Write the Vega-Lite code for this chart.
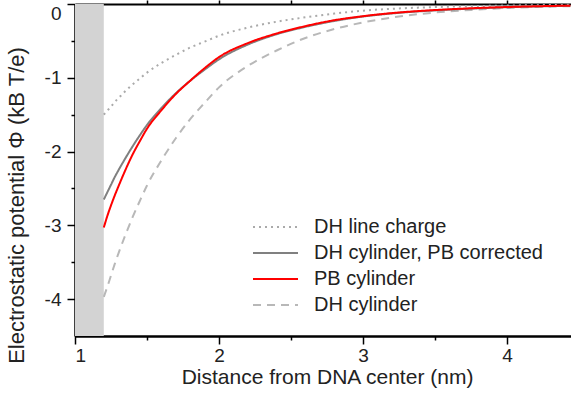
{
  "$schema": "https://vega.github.io/schema/vega-lite/v6.json",
  "width": 496,
  "height": 332,
  "autosize": {"type": "none"},
  "padding": {"left": 75, "top": 4, "right": 0, "bottom": 58},
  "background": "white",
  "config": {
    "view": {"stroke": null},
    "font": "Liberation Sans",
    "axis": {"grid": false, "domain": true, "ticks": true, "domainColor": "#000000", "domainWidth": 2, "domainOpacity": 1, "tickColor": "#000000", "tickOpacity": 1, "tickWidth": 1.5, "labelColor": "#222222", "titleColor": "#222222", "labelFont": "Liberation Sans", "titleFont": "Liberation Sans", "titleFontWeight": "normal", "zindex": 2}
  },
  "datasets": {
    "band": [{"start": 1, "end": 1.2}],
    "curves": [
      {"curve": "DH line charge", "r": 1.2, "phi": -1.5},
      {"curve": "DH line charge", "r": 1.225, "phi": -1.445},
      {"curve": "DH line charge", "r": 1.25, "phi": -1.39},
      {"curve": "DH line charge", "r": 1.275, "phi": -1.33},
      {"curve": "DH line charge", "r": 1.3, "phi": -1.28},
      {"curve": "DH line charge", "r": 1.35, "phi": -1.18},
      {"curve": "DH line charge", "r": 1.4, "phi": -1.09},
      {"curve": "DH line charge", "r": 1.45, "phi": -1.01},
      {"curve": "DH line charge", "r": 1.5, "phi": -0.93},
      {"curve": "DH line charge", "r": 1.6, "phi": -0.8},
      {"curve": "DH line charge", "r": 1.7, "phi": -0.69},
      {"curve": "DH line charge", "r": 1.8, "phi": -0.59},
      {"curve": "DH line charge", "r": 1.9, "phi": -0.51},
      {"curve": "DH line charge", "r": 2.0, "phi": -0.43},
      {"curve": "DH line charge", "r": 2.2, "phi": -0.32},
      {"curve": "DH line charge", "r": 2.4, "phi": -0.24},
      {"curve": "DH line charge", "r": 2.6, "phi": -0.18},
      {"curve": "DH line charge", "r": 2.8, "phi": -0.13},
      {"curve": "DH line charge", "r": 3.0, "phi": -0.09},
      {"curve": "DH line charge", "r": 3.25, "phi": -0.06},
      {"curve": "DH line charge", "r": 3.5, "phi": -0.042},
      {"curve": "DH line charge", "r": 3.75, "phi": -0.03},
      {"curve": "DH line charge", "r": 4.0, "phi": -0.021},
      {"curve": "DH line charge", "r": 4.25, "phi": -0.015},
      {"curve": "DH line charge", "r": 4.44, "phi": -0.011},
      {"curve": "DH cylinder", "r": 1.2, "phi": -3.97},
      {"curve": "DH cylinder", "r": 1.225, "phi": -3.83},
      {"curve": "DH cylinder", "r": 1.25, "phi": -3.68},
      {"curve": "DH cylinder", "r": 1.275, "phi": -3.53},
      {"curve": "DH cylinder", "r": 1.3, "phi": -3.39},
      {"curve": "DH cylinder", "r": 1.35, "phi": -3.13},
      {"curve": "DH cylinder", "r": 1.4, "phi": -2.89},
      {"curve": "DH cylinder", "r": 1.45, "phi": -2.67},
      {"curve": "DH cylinder", "r": 1.5, "phi": -2.46},
      {"curve": "DH cylinder", "r": 1.6, "phi": -2.12},
      {"curve": "DH cylinder", "r": 1.7, "phi": -1.82},
      {"curve": "DH cylinder", "r": 1.8, "phi": -1.56},
      {"curve": "DH cylinder", "r": 1.9, "phi": -1.34},
      {"curve": "DH cylinder", "r": 2.0, "phi": -1.13},
      {"curve": "DH cylinder", "r": 2.2, "phi": -0.84},
      {"curve": "DH cylinder", "r": 2.4, "phi": -0.63},
      {"curve": "DH cylinder", "r": 2.6, "phi": -0.46},
      {"curve": "DH cylinder", "r": 2.8, "phi": -0.34},
      {"curve": "DH cylinder", "r": 3.0, "phi": -0.25},
      {"curve": "DH cylinder", "r": 3.25, "phi": -0.17},
      {"curve": "DH cylinder", "r": 3.5, "phi": -0.115},
      {"curve": "DH cylinder", "r": 3.75, "phi": -0.08},
      {"curve": "DH cylinder", "r": 4.0, "phi": -0.055},
      {"curve": "DH cylinder", "r": 4.25, "phi": -0.038},
      {"curve": "DH cylinder", "r": 4.44, "phi": -0.03},
      {"curve": "DH cylinder, PB corrected", "r": 1.2, "phi": -2.65},
      {"curve": "DH cylinder, PB corrected", "r": 1.225, "phi": -2.55},
      {"curve": "DH cylinder, PB corrected", "r": 1.25, "phi": -2.45},
      {"curve": "DH cylinder, PB corrected", "r": 1.275, "phi": -2.35},
      {"curve": "DH cylinder, PB corrected", "r": 1.3, "phi": -2.26},
      {"curve": "DH cylinder, PB corrected", "r": 1.35, "phi": -2.09},
      {"curve": "DH cylinder, PB corrected", "r": 1.4, "phi": -1.93},
      {"curve": "DH cylinder, PB corrected", "r": 1.45, "phi": -1.78},
      {"curve": "DH cylinder, PB corrected", "r": 1.5, "phi": -1.64},
      {"curve": "DH cylinder, PB corrected", "r": 1.6, "phi": -1.41},
      {"curve": "DH cylinder, PB corrected", "r": 1.7, "phi": -1.21},
      {"curve": "DH cylinder, PB corrected", "r": 1.8, "phi": -1.04},
      {"curve": "DH cylinder, PB corrected", "r": 1.9, "phi": -0.89},
      {"curve": "DH cylinder, PB corrected", "r": 2.0, "phi": -0.75},
      {"curve": "DH cylinder, PB corrected", "r": 2.2, "phi": -0.55},
      {"curve": "DH cylinder, PB corrected", "r": 2.4, "phi": -0.41},
      {"curve": "DH cylinder, PB corrected", "r": 2.6, "phi": -0.31},
      {"curve": "DH cylinder, PB corrected", "r": 2.8, "phi": -0.23},
      {"curve": "DH cylinder, PB corrected", "r": 3.0, "phi": -0.17},
      {"curve": "DH cylinder, PB corrected", "r": 3.25, "phi": -0.12},
      {"curve": "DH cylinder, PB corrected", "r": 3.5, "phi": -0.087},
      {"curve": "DH cylinder, PB corrected", "r": 3.75, "phi": -0.063},
      {"curve": "DH cylinder, PB corrected", "r": 4.0, "phi": -0.044},
      {"curve": "DH cylinder, PB corrected", "r": 4.25, "phi": -0.031},
      {"curve": "DH cylinder, PB corrected", "r": 4.44, "phi": -0.024},
      {"curve": "PB cylinder", "r": 1.2, "phi": -3.03},
      {"curve": "PB cylinder", "r": 1.225, "phi": -2.87},
      {"curve": "PB cylinder", "r": 1.25, "phi": -2.73},
      {"curve": "PB cylinder", "r": 1.275, "phi": -2.6},
      {"curve": "PB cylinder", "r": 1.3, "phi": -2.48},
      {"curve": "PB cylinder", "r": 1.35, "phi": -2.25},
      {"curve": "PB cylinder", "r": 1.4, "phi": -2.04},
      {"curve": "PB cylinder", "r": 1.45, "phi": -1.86},
      {"curve": "PB cylinder", "r": 1.5, "phi": -1.69},
      {"curve": "PB cylinder", "r": 1.6, "phi": -1.44},
      {"curve": "PB cylinder", "r": 1.7, "phi": -1.22},
      {"curve": "PB cylinder", "r": 1.8, "phi": -1.04},
      {"curve": "PB cylinder", "r": 1.9, "phi": -0.87},
      {"curve": "PB cylinder", "r": 2.0, "phi": -0.72},
      {"curve": "PB cylinder", "r": 2.2, "phi": -0.53},
      {"curve": "PB cylinder", "r": 2.4, "phi": -0.4},
      {"curve": "PB cylinder", "r": 2.6, "phi": -0.3},
      {"curve": "PB cylinder", "r": 2.8, "phi": -0.22},
      {"curve": "PB cylinder", "r": 3.0, "phi": -0.165},
      {"curve": "PB cylinder", "r": 3.25, "phi": -0.115},
      {"curve": "PB cylinder", "r": 3.5, "phi": -0.082},
      {"curve": "PB cylinder", "r": 3.75, "phi": -0.058},
      {"curve": "PB cylinder", "r": 4.0, "phi": -0.041},
      {"curve": "PB cylinder", "r": 4.25, "phi": -0.029},
      {"curve": "PB cylinder", "r": 4.44, "phi": -0.022}
    ]
  },
  "layer": [
    {
      "data": {"name": "band"},
      "mark": {"type": "rect", "color": "#d3d3d3"},
      "encoding": {
        "x": {
          "field": "start", "type": "quantitative",
          "scale": {"domain": [1, 4.4444], "nice": false, "zero": false},
          "axis": {
            "orient": "bottom",
            "title": "Distance from DNA center (nm)",
            "values": [1, 2, 3, 4], "format": "d",
            "tickSize": 8,
            "labelFontSize": 19, "labelPadding": 2,
            "titleFontSize": 21, "titleBaseline": "alphabetic", "titleY": 47, "titleX": 252
          }
        },
        "x2": {"field": "end"}
      }
    },
    {
      "data": {"name": "curves"},
      "mark": {"type": "line", "opacity": 0},
      "encoding": {
        "x": {
          "field": "r", "type": "quantitative",
          "scale": {"domain": [1, 4.4444], "nice": false, "zero": false},
          "axis": {"orient": "bottom", "title": null, "labels": false, "values": [1.5, 2.5, 3.5], "tickSize": 4}
        },
        "y": {
          "field": "phi", "type": "quantitative",
          "scale": {"domain": [-4.5, 0], "nice": false, "zero": false},
          "axis": {"orient": "left", "title": null, "labels": false, "values": [-3.5, -2.5, -1.5, -0.5], "tickSize": 4}
        },
        "detail": {"field": "curve", "type": "nominal"}
      }
    },
    {
      "data": {"name": "curves"},
      "mark": {"type": "line", "opacity": 0},
      "encoding": {
        "x": {
          "field": "r", "type": "quantitative",
          "scale": {"domain": [1, 4.4444], "nice": false, "zero": false},
          "axis": {"orient": "top", "title": null, "labels": false, "values": [1.5, 2, 2.5, 3, 3.5, 4], "tickSize": 4}
        },
        "y": {"field": "phi", "type": "quantitative", "scale": {"domain": [-4.5, 0], "nice": false, "zero": false}, "axis": null},
        "detail": {"field": "curve", "type": "nominal"}
      }
    },
    {
      "data": {"name": "curves"},
      "mark": {"type": "line", "strokeWidth": 2, "interpolate": "monotone"},
      "encoding": {
        "x": {
          "field": "r", "type": "quantitative",
          "scale": {"domain": [1, 4.4444], "nice": false, "zero": false},
          "axis": null
        },
        "y": {
          "field": "phi", "type": "quantitative",
          "scale": {"domain": [-4.5, 0], "nice": false, "zero": false},
          "axis": {
            "orient": "left",
            "title": "Electrostatic potential Φ (kB T/e)",
            "values": [-4, -3, -2, -1, 0],
            "labelExpr": "datum.value == 0 ? '0' : '-' + abs(datum.value)",
            "labelFlush": true,
            "tickSize": 8,
            "labelFontSize": 19, "labelPadding": 6,
            "titleFontSize": 22, "titleX": -47, "titleY": 201
          }
        },
        "color": {
          "field": "curve", "type": "nominal",
          "scale": {
            "domain": ["DH line charge", "DH cylinder, PB corrected", "PB cylinder", "DH cylinder"],
            "range": ["#aaaaaa", "#808080", "#ff0000", "#b8b8b8"]
          },
          "legend": {
            "title": null, "orient": "none", "legendX": 190.5, "legendY": 213,
            "padding": 0, "symbolType": "M-4.5,0H4.5", "symbolSize": 100,
            "symbolStrokeWidth": 2, "labelOffset": 28.5, "labelFontSize": 20, "labelLimit": 400,
            "labelColor": "#222222", "labelFont": "Liberation Sans", "rowPadding": 6
          }
        },
        "strokeDash": {
          "field": "curve", "type": "nominal",
          "scale": {
            "domain": ["DH line charge", "DH cylinder, PB corrected", "PB cylinder", "DH cylinder"],
            "range": [[2, 4], [1, 0], [1, 0], [8, 6]]
          },
          "legend": {
            "title": null, "orient": "none", "legendX": 190.5, "legendY": 213,
            "padding": 0, "symbolType": "M-4.5,0H4.5", "symbolSize": 100,
            "symbolStrokeWidth": 2, "labelOffset": 28.5, "labelFontSize": 20, "labelLimit": 400,
            "labelColor": "#222222", "labelFont": "Liberation Sans", "rowPadding": 6
          }
        }
      }
    }
  ],
  "resolve": {"axis": {"x": "independent", "y": "independent"}}
}
